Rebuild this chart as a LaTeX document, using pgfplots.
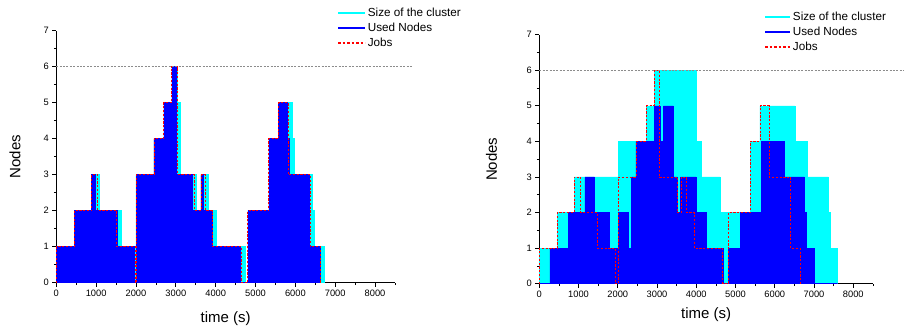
\documentclass[border=0pt]{standalone}
\usepackage{pgfplots}
\pgfplotsset{compat=1.18}
\usepackage{fontspec}
\setmainfont{Liberation Sans}
\definecolor{mycyan}{RGB}{0,255,255}
\definecolor{myblue}{RGB}{0,0,255}
\definecolor{myred}{RGB}{255,0,0}
\definecolor{mygray}{RGB}{140,140,140}

\pgfplotsset{
 mystyle/.style={
  scale only axis, xmin=0,xmax=8500,ymin=0,ymax=7,
  axis x line*=bottom, axis y line*=left,
  axis line style={line width=0.8pt, black},
  xtick={0,1000,...,8000}, minor xtick={500,1500,...,8500},
  ytick={0,...,7}, minor ytick={0.5,1.5,...,6.5},
  tick align=outside, major tick length=4pt, minor tick length=2.5pt,
  tick style={black, line width=0.7pt},
  ticklabel style={font=\fontsize{9.3}{11}\selectfont},
  /pgf/number format/assume math mode=true,
  /pgf/number format/1000 sep={},
  scaled x ticks=false,
  label style={font=\fontsize{15}{18}\selectfont},
  clip=false,
  legend cell align=left,
 }
}

\pgfplotstableread{
x y
0 1
450 2
890 3
1080 2
1640 1
1980 0
2000 3
2450 4
2700 5
2900 6
3040 5
3120 3
3520 2
3630 3
3810 2
4020 1
4742 0
4808 2
5333 4
5583 5
5917 4
5975 3
6433 2
6466 1
6717 0
}\Lcluster

\pgfplotstableread{
x y
0 1
450 2
890 3
970 2
1520 1
1950 0
2020 3
2450 4
2700 5
2900 6
3020 3
3420 2
3630 3
3700 2
3910 1
4617 0
4808 2
5333 4
5583 5
5808 4
5850 3
6348 1
6617 0
}\Lused

\pgfplotstableread{
x y
0 0
0 1
450 2
890 3
1030 2
1520 1
1980 0
2010 3
2450 4
2700 5
2900 6
3040 3
3470 2
3630 3
3750 2
3910 1
4640 0
4808 2
5333 4
5583 5
5817 3
6375 1
6617 0
}\Ljobs

\pgfplotstableread{
x y
0 1
458 2
891 3
2012 4
2719 5
2923 6
4009 4
4137 3
4604 2
5369 4
5623 5
6514 4
6829 3
7363 2
7406 1
7601 0
}\Rcluster

\pgfplotstableread{
x y
0 0
272 1
739 2
1163 3
1401 2
1775 1
2012 2
2267 1
2352 3
2462 4
2923 5
3075 4
3160 5
3415 3
3517 2
3602 3
3992 2
4247 1
4689 0
4816 1
5132 2
5649 4
6234 3
6752 2
6795 1
7000 0
7601 0
}\Rused

\pgfplotstableread{
x y
0 0
0 1
458 2
891 3
1053 2
1477 1
1927 0
2012 3
2462 4
2719 5
2923 6
3050 3
3510 2
3620 3
3755 2
3950 1
4672 0
4816 2
5369 4
5623 5
5852 3
6404 1
6642 0
}\Rjobs

\begin{document}
\begin{tikzpicture}
\path[use as bounding box] (0,0) rectangle (904pt,330pt);
% Left
\begin{axis}[mystyle, at={(56.3pt,47.3pt)}, anchor=south west,
  width=338.7pt, height=252pt,
  xlabel={time (s)}, ylabel={Nodes},
  xlabel style={at={(axis description cs:0.5,-0.144)}, anchor=center},
  ylabel style={at={(axis description cs:-0.122,0.5)}, anchor=center},
  legend image code/.code={\draw[#1] (0pt,0pt) -- (27pt,0pt);},
  legend style={at={(axis description cs:0.826,1.102)}, anchor=north west, draw=none, fill=none, font=\fontsize{11.7}{13}\selectfont, row sep=1pt, inner sep=1pt}]
\addplot[const plot, fill=mycyan, draw=mycyan, line width=0.6pt, forget plot] table[x=x,y=y] {\Lcluster} \closedcycle;
\addplot[const plot, fill=myblue, draw=myblue, line width=0.6pt, forget plot] table[x=x,y=y] {\Lused} \closedcycle;
\addplot[const plot, draw=myred, line width=0.8pt, dash pattern=on 2.2pt off 1.6pt, forget plot] table[x=x,y=y] {\Ljobs};
\addplot[draw=mygray, line width=0.7pt, dash pattern=on 2pt off 1.4pt, forget plot] coordinates {(0,6) (8925,6)};
\addlegendimage{color=mycyan, line width=1.6pt}
\addlegendentry{Size of the cluster}
\addlegendimage{color=myblue, line width=1.6pt}
\addlegendentry{Used Nodes}
\addlegendimage{color=myred, line width=1.6pt, dash pattern=on 2.5pt off 2pt}
\addlegendentry{Jobs}
\end{axis}
% Right
\begin{axis}[mystyle, at={(539.3pt,46.3pt)}, anchor=south west,
  width=333.6pt, height=249pt,
  xlabel={time (s)}, ylabel={Nodes},
  xlabel style={at={(axis description cs:0.5,-0.126)}, anchor=center},
  ylabel style={at={(axis description cs:-0.143,0.5)}, anchor=center},
  legend image code/.code={\draw[#1] (0pt,0pt) -- (25pt,0pt);},
  legend style={at={(axis description cs:0.671,1.103)}, anchor=north west, draw=none, fill=none, font=\fontsize{11.7}{13}\selectfont, row sep=1pt, inner sep=1pt}]
\addplot[const plot, fill=mycyan, draw=mycyan, line width=0.6pt, forget plot] table[x=x,y=y] {\Rcluster} \closedcycle;
\addplot[const plot, fill=myblue, draw=myblue, line width=0.6pt, forget plot] table[x=x,y=y] {\Rused} \closedcycle;
\addplot[const plot, draw=myred, line width=0.8pt, dash pattern=on 2.2pt off 1.6pt, forget plot] table[x=x,y=y] {\Rjobs};
\addplot[draw=mygray, line width=0.7pt, dash pattern=on 2pt off 1.4pt, forget plot] coordinates {(0,6) (9300,6)};
\addlegendimage{color=mycyan, line width=1.6pt}
\addlegendentry{Size of the cluster}
\addlegendimage{color=myblue, line width=1.6pt}
\addlegendentry{Used Nodes}
\addlegendimage{color=myred, line width=1.6pt, dash pattern=on 2.5pt off 2pt}
\addlegendentry{Jobs}
\end{axis}
\end{tikzpicture}
\end{document}
